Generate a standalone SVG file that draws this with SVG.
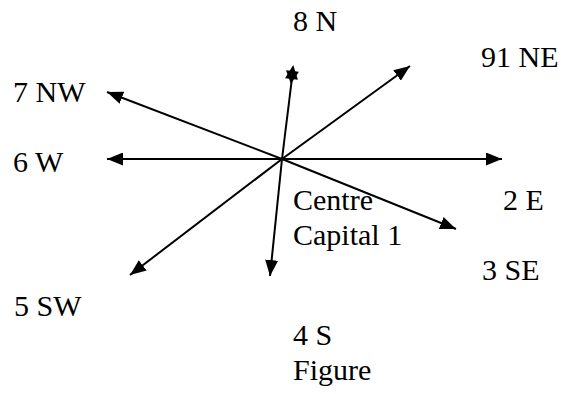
<svg xmlns="http://www.w3.org/2000/svg" width="561" height="394" viewBox="0 0 561 394">
  <style>
    text { font-family: "Liberation Serif", "Times New Roman", serif; font-size: 30px; fill: #000; }
    .arrow { stroke: #000; stroke-width: 2; fill: none; marker-end: url(#head); }
  </style>
  <defs>
    <marker id="head" markerUnits="userSpaceOnUse" markerWidth="17" markerHeight="13" refX="16" refY="6.5" orient="auto">
      <path d="M0,0 L16,6.5 L0,13 Z" fill="#000"/>
    </marker>
  </defs>
  <rect width="561" height="394" fill="#fff"/>
  <g id="connectors">
    <line class="arrow" x1="282" y1="159" x2="502" y2="159"/>
    <line class="arrow" x1="282" y1="159" x2="107" y2="159"/>
    <line class="arrow" x1="282" y1="159" x2="410" y2="66"/>
    <line class="arrow" x1="282" y1="159" x2="130" y2="275"/>
    <line class="arrow" x1="282" y1="159" x2="107" y2="92"/>
    <line class="arrow" x1="282" y1="159" x2="456" y2="229"/>
    <line class="arrow" x1="282" y1="159" x2="270" y2="276"/>
    <line stroke="#000" stroke-width="2" x1="282" y1="159" x2="292" y2="78"/>
    <g transform="translate(292,75) rotate(7)">
      <polygon points="0,-10 6.5,4 -6.5,4" fill="#000"/>
      <polygon points="0,9 6.5,-4 -6.5,-4" fill="#000"/>
    </g>
  </g>
  <g id="n8"><text x="293" y="31">8 N</text></g>
  <g id="n91"><text x="481" y="67">91 NE</text></g>
  <g id="n7"><text x="13" y="102">7 NW</text></g>
  <g id="n6"><text x="13" y="172">6 W</text></g>
  <g id="centre"><text x="293" y="210">Centre</text><text x="293" y="245">Capital 1</text></g>
  <g id="n2"><text x="503" y="210">2 E</text></g>
  <g id="n3"><text x="482" y="280">3 SE</text></g>
  <g id="n5"><text x="14" y="316">5 SW</text></g>
  <g id="n4"><text x="293" y="345">4 S</text></g>
  <g id="caption"><text x="293" y="380">Figure</text></g>
</svg>
